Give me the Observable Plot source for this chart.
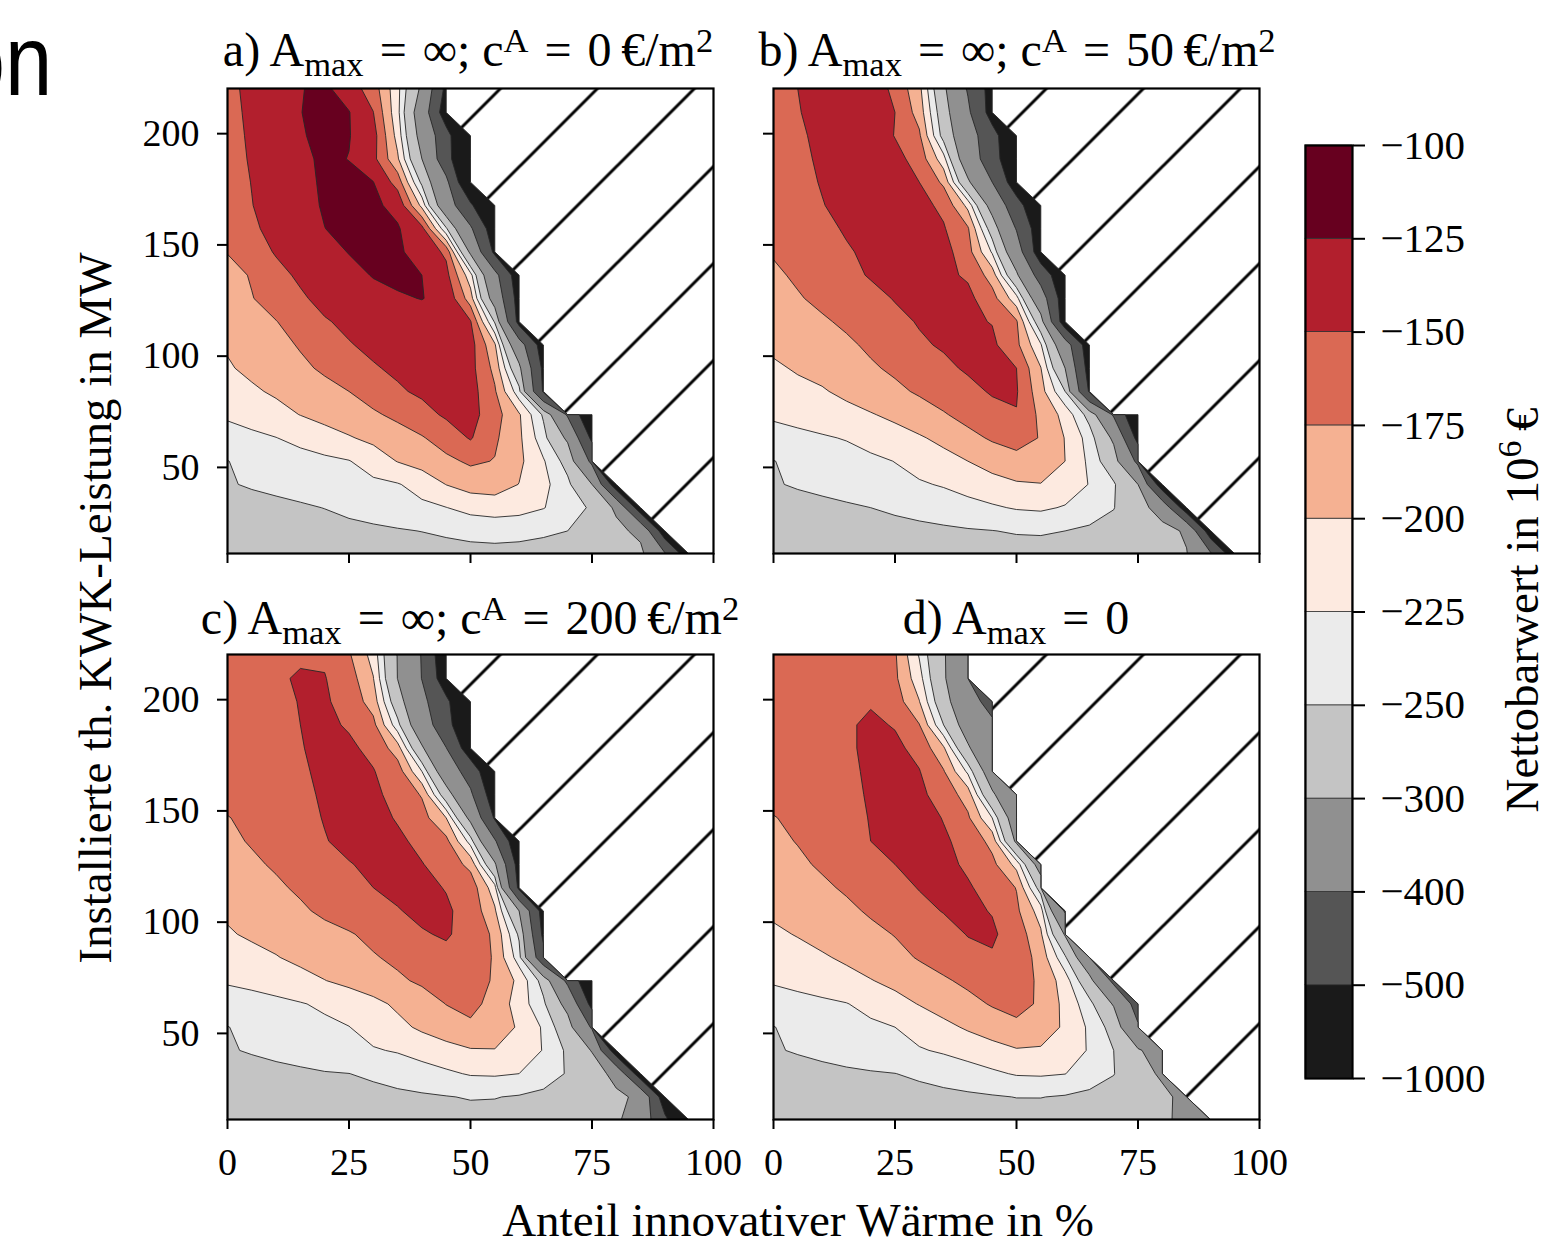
<!DOCTYPE html>
<html>
<head>
<meta charset="utf-8">
<script src="https://cdn.jsdelivr.net/npm/d3@7"></script>
<script src="https://cdn.jsdelivr.net/npm/@observablehq/plot@0.6"></script>
<style>
  body { margin: 0; background: #fff; }
  #root { position: relative; width: 1567px; height: 1245px; overflow: hidden; background: #fff;
          font-family: "Liberation Serif", serif; color: #000; }
  .abs { position: absolute; white-space: nowrap; line-height: 1; }
  .title { font-size: 48px; transform: translateX(-50%); }
  .title sub { font-size: 0.72em; vertical-align: -0.3em; line-height: 0; }
  .title sup { font-size: 0.72em; vertical-align: 0.42em; line-height: 0; }
  .lab sup { font-size: 0.72em; vertical-align: 0.5em; line-height: 0; }
  .lab { font-size: 47px; }
  .rot { transform: translate(-50%, -50%) rotate(-90deg); }
  .plotbox { position: absolute; }
</style>
</head>
<body>
<div id="root"></div>
<script>
// ---------- data ----------
const shares = [0, 5, 10, 15, 20, 25, 30, 35, 40, 45, 50, 55, 60, 65, 70, 75, 80, 85, 90, 95, 100];
const capacities = [11, 21.45, 31.9, 42.35, 52.8, 63.25, 73.7, 84.15, 94.6, 105.05, 115.5,
                    125.95, 136.4, 146.85, 157.3, 167.75, 178.2, 188.65, 199.1, 209.55, 220];
const levels = [-1000, -500, -400, -300, -250, -225, -200, -175, -150, -125, -100];
const bandColors = ["#1a1a1a", "#555555", "#909090", "#c4c4c4", "#ebebeb",
                    "#fdeae0", "#f5b192", "#da6954", "#b21f2d", "#67001f"];
const xTicks = [0, 25, 50, 75, 100];
const yTicks = [50, 100, 150, 200];
const EQ = "&#8196;=&#8196;";
const panelTitles = [
  `a) A<sub>max</sub>${EQ}∞; c<sup>A</sup>${EQ}0&#8201;€/m<sup>2</sup>`,
  `b) A<sub>max</sub>${EQ}∞; c<sup>A</sup>${EQ}50&#8201;€/m<sup>2</sup>`,
  `c) A<sub>max</sub>${EQ}∞; c<sup>A</sup>${EQ}200&#8201;€/m<sup>2</sup>`,
  `d) A<sub>max</sub>${EQ}0`
];
const xLabel = "Anteil innovativer Wärme in %";
const yLabel = "Installierte th. KWK-Leistung in MW";
const cLabel = "Nettobarwert in 10<sup>6</sup>&#8201;€";

// Net present value (10^6 €), rows from top (220 MW) to bottom (11 MW),
// columns at shares 0,5,10,...; a row ends where the configuration is infeasible.
const npvA = [
  [-155, -145, -135, -126, -120, -137, -162, -217, -311, -525],
  [-156, -146, -136, -125.5, -118, -124, -149.5, -217, -340, -560],
  [-157, -147, -137, -127, -119, -124, -140, -209, -323, -463, -650],
  [-158, -148, -139, -130, -121, -125.5, -143, -196, -300, -460, -640],
  [-158.5, -149.5, -140, -131, -122, -120, -124.5, -160, -257, -378, -620],
  [-159, -150.5, -141.5, -132, -123, -119, -121, -131, -207, -350, -483, -650],
  [-160, -153, -144.4, -134.8, -125.2, -120, -119, -123, -142, -245, -387, -560],
  [-174, -161, -148, -141, -131.5, -124.3, -120, -122, -133, -155, -310, -520],
  [-184, -173, -157, -146, -138.5, -130.7, -124, -121, -125, -142, -215, -370, -560],
  [-188, -176, -164.5, -153.4, -143, -136.5, -131, -127, -124.5, -130, -188, -330, -540],
  [-194, -185.5, -175.7, -164, -152, -145, -139, -135, -133, -137, -148, -253, -530],
  [-198, -191.5, -182, -173, -163, -151.4, -145, -141, -138, -137, -140, -196, -355, -550],
  [-202, -195.5, -187.4, -179.6, -171.4, -161.5, -152, -146, -143, -142, -142, -182, -285, -520],
  [-205, -203, -197, -189, -182, -175, -164, -153, -146, -142, -140, -172, -240, -510],
  [-221, -214, -207, -199.5, -192.5, -185.5, -178.5, -169.5, -158, -146.5, -141, -165, -197, -254, -410, -600],
  [-236, -231, -225.5, -217.5, -209.6, -202, -194, -186, -177, -163.5, -148, -171, -195, -240, -310, -520],
  [-250.5, -243.6, -239, -235, -230.4, -226, -213.7, -199, -190, -180.6, -171, -176, -194.5, -222.5, -262, -420],
  [-252, -247.5, -244, -240.3, -237, -233.4, -230, -226.6, -216, -199.5, -190, -189, -200.5, -218, -243, -300, -560],
  [-262, -259, -256, -253, -249.5, -244, -239.5, -234.8, -230, -225.5, -217, -213, -216, -224, -237, -254, -310, -560],
  [-268, -266, -264, -262, -259.5, -257, -254.5, -252, -249.5, -246, -243, -242, -243, -246, -250, -262, -285, -315, -560],
  [-275, -274, -273, -272, -270, -268, -266, -264, -262, -260, -258, -257, -258, -260, -264, -270, -280, -285, -390, -560]
];
const npvB = [
  [-160, -150, -140, -133, -135, -156, -192.6, -287.5, -407, -540],
  [-161, -151.5, -141, -134, -133, -150, -185, -273, -384, -540],
  [-162, -154, -144, -136, -134, -151, -171, -262, -355, -465, -600],
  [-163, -156, -146, -138, -133, -142, -160, -215, -345, -453, -600],
  [-164, -157, -148.5, -141, -136, -138, -150, -180, -290, -400, -560],
  [-165, -159, -151, -143, -138, -136, -143, -155, -207, -325, -460, -600],
  [-167, -162, -155, -148, -142, -139, -140, -148, -172, -268, -405, -560],
  [-173, -165, -158, -152, -146, -142, -141, -141, -165, -228, -350, -560],
  [-179, -171.5, -163, -155, -148.5, -145, -143, -145, -153, -186, -290, -440, -580],
  [-185, -177, -169.7, -162.6, -155.5, -149, -146, -145, -144, -165, -215, -350, -560],
  [-190, -184, -178, -171, -162.5, -154.5, -148.7, -146, -146, -151, -172, -275, -560],
  [-196, -191, -186, -179, -171, -161, -152.5, -148, -146, -145, -169, -222, -350, -560],
  [-203, -198, -193, -187, -178, -171, -162, -154, -147.5, -145, -150, -199, -300, -540],
  [-208, -205, -202, -195, -187.5, -180, -172, -163.5, -155.5, -148, -148, -190, -250, -510],
  [-221, -217, -212, -207, -201.5, -195, -186, -177, -167, -157, -151, -181, -208, -262, -410, -600],
  [-235, -231, -227.5, -223.5, -216, -209, -202.5, -194, -182, -172, -168, -176, -201, -235, -310, -530],
  [-250.5, -245, -240, -235, -230, -224.5, -216, -208, -200, -190, -181, -182, -200, -230, -275, -420],
  [-252, -247.5, -244, -240.5, -236, -232, -227.5, -223, -216, -209, -203, -201, -210, -226, -246, -300, -560],
  [-262, -259, -256, -253, -250, -246, -242, -238, -233, -228, -223, -221, -227, -238, -249, -275, -330, -560],
  [-270, -268, -266, -264, -261, -258, -256, -254, -252, -250.5, -248, -247.5, -250, -254, -260, -270, -280, -308, -560],
  [-278, -277, -276, -275, -273, -271, -269, -267, -265, -263, -261, -260, -261, -264, -268, -274, -282, -297, -390, -560]
];
const npvC = [
  [-165, -159, -155, -152, -153, -172, -209, -302, -405, -580],
  [-163, -157, -152, -148.5, -149, -163, -199, -301, -402, -560],
  [-163, -158, -153, -149.5, -147, -159, -186, -274, -375, -480, -620],
  [-164, -159, -154, -150, -146, -152, -168, -240, -350, -460, -620],
  [-165, -160, -155, -151, -145, -146.5, -155, -188, -292, -398, -560],
  [-166, -162, -157, -152, -147, -144, -149, -162, -225, -345, -440, -600],
  [-167, -163, -159, -153.5, -148, -143, -145, -158, -177, -272, -385, -560],
  [-176, -169, -163, -156, -149, -144, -142, -152, -165, -200, -315, -510],
  [-180, -173, -166, -159, -151, -145, -142, -145.5, -156, -168, -235, -390, -580],
  [-185, -179, -172, -164, -157, -151, -146, -144, -149, -160, -182, -290, -540],
  [-190, -185, -179, -171, -163, -156, -150, -146, -145, -151, -160, -215, -520],
  [-197, -191, -186, -179, -170, -163, -157, -151, -146, -147, -158, -196, -300, -540],
  [-202, -197, -193, -188, -183, -177, -169, -161, -151.5, -148, -157, -180, -255, -520],
  [-210, -206, -201, -195, -189, -183, -177, -170, -162, -155, -157, -178, -238, -470],
  [-222, -218, -213, -207, -200.5, -194, -187, -179, -171, -164, -163, -178, -206, -262, -420, -600],
  [-238, -235, -231, -226.5, -221, -214, -206, -196, -187, -174.5, -169, -182, -212, -244, -320, -530],
  [-250.5, -245, -240, -235, -230, -225.5, -215, -206, -196, -186, -179, -186, -203, -228, -275, -410],
  [-252, -248, -244, -240.5, -236, -231.5, -227, -223, -215, -209, -202, -201, -212, -226, -255, -303, -560],
  [-262, -259, -256.5, -254, -251.5, -250.2, -246, -241, -236, -229, -223, -222, -225, -238, -252, -270, -320, -560],
  [-270, -268, -266, -264, -262, -260, -257.5, -255, -253, -251, -248.5, -249.2, -252, -256, -262, -270, -288, -312, -560],
  [-276, -275, -274, -273, -271, -269, -267, -265, -263, -261, -259, -258, -260, -263, -268, -276, -290, -340, -480, -620]
];
const npvD = [
  [-163, -160, -158, -157, -158, -172, -227, -295, -360],
  [-163, -160, -157, -155, -156, -170, -215, -292, -380],
  [-164, -161, -157, -154, -152, -162, -199, -278, -355, -440],
  [-165, -162, -158, -153, -146, -151.5, -174, -250, -330, -380],
  [-166, -163, -159, -153, -146, -145, -157, -196, -292, -370],
  [-167, -164, -160, -154, -147, -143, -149, -173, -230, -340],
  [-168, -165, -161, -155, -148, -142, -145, -160, -186, -290, -370],
  [-176, -170, -164, -157, -149, -142, -141, -151, -171, -225, -340],
  [-180, -174, -167, -160, -150, -144, -141, -147, -157, -183, -310],
  [-185, -179, -172, -165, -157, -150, -144, -145, -153, -168, -208, -330],
  [-189, -184, -179, -172, -164, -157, -149, -146, -148, -157, -176, -265],
  [-197, -192, -187, -180, -172, -164, -156, -149, -146, -151, -170, -212, -410],
  [-203, -199, -194, -188, -181, -174, -166, -158, -149, -147, -160, -196, -305],
  [-210, -206, -202, -197, -189, -182, -173, -165, -157, -152, -158, -185, -245, -360],
  [-222, -217, -212, -206, -201, -194, -186, -178, -170, -163, -162, -180, -212, -280, -420],
  [-238, -234, -230, -226, -217, -208, -199, -190, -182, -173, -168, -178, -207, -240, -305, -440],
  [-250.5, -245, -240, -235, -230, -225, -215, -206, -197, -188, -180, -186, -204, -229, -262, -390],
  [-252, -248, -244, -240, -236, -231.5, -227, -222, -215, -209, -202, -203, -212, -227, -250, -292, -340],
  [-262, -259, -256.5, -254, -252, -250.3, -246, -241, -236, -229, -223, -222, -224.5, -237, -249, -275, -310],
  [-270, -268, -266, -264, -262, -260, -258, -256, -254, -252, -249.5, -249.5, -252, -256, -262, -270, -285, -320],
  [-278, -277, -276, -275, -273, -271, -269, -267, -265, -263, -261, -260, -261, -264, -268, -276, -290, -315, -350]
];

// ---------- drawing ----------
const root = document.getElementById("root");
const INFEASIBLE = -1e6; // no solution: contour regions stop, hatched background shows
const FW = 486, FH = 465, ML = 130, MR = 20, MT = 20, MB = 80;
const halfX = (shares[1] - shares[0]) / 2;
const halfY = (capacities[1] - capacities[0]) / 2;
const HATCH = 97;

function toGrid(rowsTopDown) {
  const out = [];
  for (const r of rowsTopDown.slice().reverse())
    for (let c = 0; c < shares.length; c++) out.push(c < r.length ? r[c] : INFEASIBLE);
  return out;
}

function place(el, left, top) {
  const box = document.createElement("div");
  box.className = "plotbox";
  box.style.left = left + "px";
  box.style.top = top + "px";
  box.appendChild(el);
  root.appendChild(box);
}

function panel(rows, id, frameLeft, frameTop, showX, showY) {
  const svg = Plot.plot({
    width: ML + FW + MR, height: MT + FH + MB,
    marginLeft: ML, marginRight: MR, marginTop: MT, marginBottom: MB,
    x: {domain: [0, 100]},
    y: {domain: [11.3, 220.3]},
    color: {type: "ordinal", domain: levels.slice(0, 10), range: bandColors},
    style: {fontFamily: "'Liberation Serif', serif", fontSize: "38px", color: "black",
            background: "transparent", overflow: "visible", maxWidth: "none"},
    marks: [
      Plot.frame({fill: `url(#${id})`}),
      Plot.contour(toGrid(rows), {
        width: shares.length, height: capacities.length,
        x1: shares[0] - halfX, x2: shares[shares.length - 1] + halfX,
        y1: capacities[0] - halfY, y2: capacities[capacities.length - 1] + halfY,
        thresholds: levels.slice(0, 10),
        fill: Plot.identity, stroke: "#262626", strokeWidth: 0.9, clip: true
      }),
      Plot.axisX({ticks: xTicks, tickSize: 10, tickPadding: 19, strokeWidth: 2, fontSize: 38,
                  tickFormat: showX ? (d => String(d)) : (() => ""), label: null}),
      Plot.axisY({ticks: yTicks, tickSize: 10, tickPadding: 18, strokeWidth: 2, fontSize: 38,
                  tickFormat: showY ? (d => String(d)) : (() => ""), label: null}),
      Plot.frame({stroke: "black", strokeWidth: 2.2})
    ]
  });
  const shift = (79 + ML + MT) % HATCH;
  d3.select(svg).insert("defs", ":first-child").html(
    `<pattern id="${id}" patternUnits="userSpaceOnUse" width="${HATCH}" height="${HATCH}" patternTransform="translate(${shift},0)">` +
    `<rect width="${HATCH}" height="${HATCH}" fill="white"/>` +
    `<path d="M0,${HATCH} L${HATCH},0 M-10,10 L10,-10 M${HATCH - 10},${HATCH + 10} L${HATCH + 10},${HATCH - 10}" stroke="black" stroke-width="3"/>` +
    `</pattern>`);
  place(svg, frameLeft - ML, frameTop - MT);
}

panel(npvA, "hatchA", 227, 88, false, true);
panel(npvB, "hatchB", 773, 88, false, false);
panel(npvC, "hatchC", 227, 654, true, true);
panel(npvD, "hatchD", 773, 654, true, false);

// colorbar
const CBW = 47, CBH = 933;
const cb = Plot.plot({
  width: 10 + CBW + 220, height: 10 + CBH + 40,
  marginLeft: 10, marginRight: 220, marginTop: 10, marginBottom: 40,
  x: {domain: [0, 1], axis: null},
  y: {domain: [0, levels.length - 1], axis: null},
  color: {type: "ordinal", domain: levels.slice(0, 10), range: bandColors},
  style: {fontFamily: "'Liberation Serif', serif", fontSize: "41px", color: "black",
          background: "transparent", overflow: "visible", maxWidth: "none"},
  marks: [
    Plot.rect(d3.range(levels.length - 1), {x1: 0, x2: 1, y1: i => i, y2: i => i + 1,
      fill: i => levels[i], stroke: "#333", strokeWidth: 0.8}),
    Plot.frame({stroke: "black", strokeWidth: 2.2}),
    Plot.axisY({anchor: "right", ticks: d3.range(levels.length), tickSize: 12, tickPadding: 16,
      strokeWidth: 2, fontSize: 41, tickFormat: i => "\u2212" + Math.abs(levels[i]), label: null})
  ]
});
place(cb, 1305 - 10, 145 - 10);

// texts
function addText(html, cls, style) {
  const d = document.createElement("div");
  d.className = "abs " + cls;
  d.innerHTML = html;
  Object.assign(d.style, style);
  root.appendChild(d);
}
addText(panelTitles[0], "title", {left: "468px", top: "26px"});
addText(panelTitles[1], "title", {left: "1017px", top: "26px"});
addText(panelTitles[2], "title", {left: "470px", top: "594px"});
addText(panelTitles[3], "title", {left: "1016px", top: "594px"});
addText(xLabel, "lab", {left: "798px", top: "1200px", lineHeight: "40px", transform: "translateX(-50%)"});
addText(yLabel, "lab rot", {left: "95px", top: "608px"});
addText(cLabel, "lab rot", {left: "1522px", top: "610px"});
addText("on", "", {right: "1515px", top: "10px", fontFamily: "'Liberation Sans', sans-serif",
  fontSize: "100px", transform: "scaleX(0.85)", transformOrigin: "right center"});
</script>
</body>
</html>
